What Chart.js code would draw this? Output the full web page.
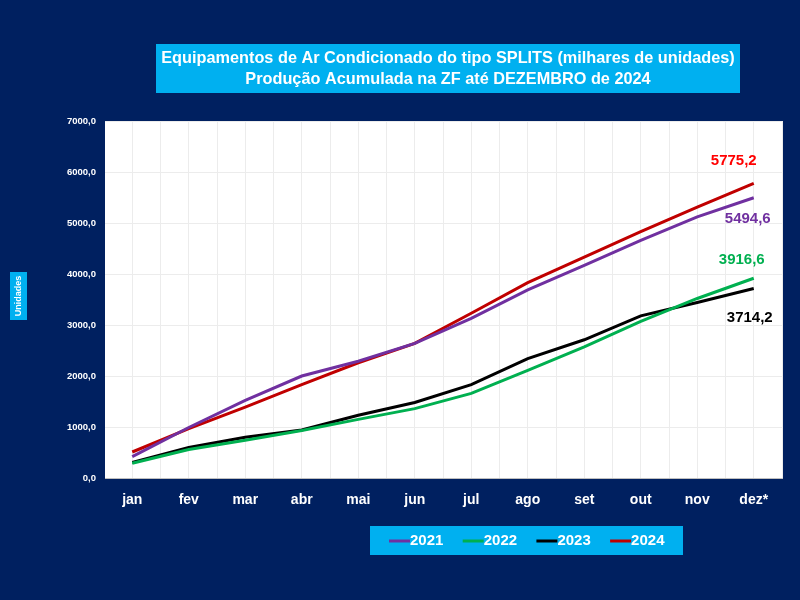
<!DOCTYPE html>
<html>
<head>
<meta charset="utf-8">
<script src="https://cdn.jsdelivr.net/npm/chart.js@4/dist/chart.umd.min.js"></script>
<style>
  html, body { margin: 0; padding: 0; background: #002060; }
  #wrap { width: 800px; height: 600px; }
</style>
</head>
<body>
<div id="wrap"><canvas id="chart" width="800" height="600"></canvas></div>
<script>
// dados (milhares de unidades, acumulado)
const months = ['jan', 'fev', 'mar', 'abr', 'mai', 'jun', 'jul', 'ago', 'set', 'out', 'nov', 'dez*']
const years = ['2021', '2022', '2023', '2024']
const y2021 = [420, 990, 1520, 2000, 2290, 2640, 3130, 3690, 4170, 4660, 5120, 5494.6]
const y2022 = [290, 560, 740, 930, 1150, 1360, 1660, 2110, 2570, 3070, 3520, 3916.6]
const y2023 = [305, 600, 800, 940, 1230, 1480, 1830, 2340, 2710, 3180, 3440, 3714.2]
const y2024 = [510, 970, 1390, 1830, 2260, 2640, 3230, 3830, 4330, 4830, 5310, 5775.2]
const yTicks = [0, 1000, 2000, 3000, 4000, 5000, 6000, 7000]

const NAVY = '#002060'
const CYAN = '#00B0F0'
const FONT = "'Liberation Sans', Arial, sans-serif"

const fmt = v => v.toFixed(1).replace('.', ',')

// estilo de cada série: cor da linha, cor do rótulo final, deslocamento do rótulo
const seriesStyle = [
  { line: '#7030A0', label: '#7030A0', dx: -6, dy: 21 },
  { line: '#00B050', label: '#00B050', dx: -12, dy: -18 },
  { line: '#000000', label: '#000000', dx: -4, dy: 29 },
  { line: '#C00000', label: '#FF0000', dx: -20, dy: -23 }
]
const seriesData = [y2021, y2022, y2023, y2024]

const datasets = years.map((yr, i) => ({
  label: yr,
  data: seriesData[i],
  borderColor: seriesStyle[i].line,
  backgroundColor: seriesStyle[i].line,
  borderWidth: 3,
  pointRadius: 0,
  tension: 0,
  xAxisID: 'x',
  yAxisID: 'y'
}))

// fundo, caixas do título / legenda / eixo e rótulos finais
const decor = {
  id: 'decor',
  beforeDraw(chart) {
    const { ctx, chartArea } = chart
    ctx.save()
    ctx.fillStyle = NAVY
    ctx.fillRect(0, 0, chart.width, chart.height)
    ctx.fillStyle = '#ffffff'
    ctx.fillRect(chartArea.left, chartArea.top, chartArea.right - chartArea.left, chartArea.bottom - chartArea.top)
    ctx.restore()
  },
  afterDraw(chart) {
    const { ctx } = chart
    ctx.save()

    // título
    ctx.fillStyle = CYAN
    ctx.fillRect(156, 44, 584, 49)
    ctx.fillStyle = '#ffffff'
    ctx.font = 'bold 16.3px ' + FONT
    ctx.textAlign = 'center'
    ctx.textBaseline = 'middle'
    ctx.fillText('Equipamentos de Ar Condicionado do tipo SPLITS (milhares de unidades)', 448, 59)
    ctx.fillText('Produção Acumulada na ZF até DEZEMBRO de 2024', 448, 80)

    // título do eixo y
    ctx.fillStyle = CYAN
    ctx.fillRect(10, 272, 17, 48)
    ctx.save()
    ctx.translate(18.5, 296)
    ctx.rotate(-Math.PI / 2)
    ctx.fillStyle = '#ffffff'
    ctx.font = 'bold 9px ' + FONT
    ctx.fillText('Unidades', 0, 0)
    ctx.restore()

    // legenda
    ctx.fillStyle = CYAN
    ctx.fillRect(370, 526, 313, 29)
    ctx.font = 'bold 15px ' + FONT
    ctx.textAlign = 'left'
    chart.data.datasets.forEach((ds, i) => {
      const x0 = 389 + i * 73.7
      ctx.strokeStyle = ds.borderColor
      ctx.lineWidth = 3
      ctx.beginPath()
      ctx.moveTo(x0, 541)
      ctx.lineTo(x0 + 21, 541)
      ctx.stroke()
      ctx.fillStyle = '#ffffff'
      ctx.fillText(ds.label, x0 + 21, 541)
    })

    // rótulos do último ponto
    ctx.font = 'bold 15px ' + FONT
    ctx.textAlign = 'center'
    chart.data.datasets.forEach((ds, i) => {
      const meta = chart.getDatasetMeta(i)
      const pt = meta.data[meta.data.length - 1]
      const v = ds.data[ds.data.length - 1]
      ctx.fillStyle = seriesStyle[i].label
      ctx.fillText(fmt(v), pt.x + seriesStyle[i].dx, pt.y + seriesStyle[i].dy)
    })
    ctx.restore()
  }
}

new Chart(document.getElementById('chart'), {
  type: 'line',
  data: { labels: months, datasets },
  options: {
    responsive: false,
    animation: false,
    layout: { padding: { top: 121, right: 18, bottom: 77, left: 0 } },
    plugins: {
      legend: { display: false },
      title: { display: false },
      tooltip: { enabled: false }
    },
    scales: {
      x: {
        type: 'category',
        offset: true,
        grid: { color: '#ececec', offset: true, drawTicks: false },
        border: { color: '#bfbfbf', width: 1 },
        ticks: {
          color: '#ffffff',
          font: { family: FONT, size: 14, weight: 'bold' },
          padding: 14,
          autoSkip: false,
          maxRotation: 0
        },
        afterFit(s) { s.height = 45 }
      },
      x2: {
        type: 'category',
        labels: months,
        offset: true,
        position: 'bottom',
        display: true,
        grid: { color: '#ececec', offset: false, drawTicks: false },
        border: { display: false },
        ticks: { display: false },
        afterFit(s) { s.height = 0 }
      },
      y: {
        min: 0,
        max: 7000,
        afterBuildTicks(s) { s.ticks = yTicks.map(v => ({ value: v })) },
        grid: { color: '#ececec', drawTicks: false },
        border: { color: NAVY },
        ticks: {
          color: '#ffffff',
          font: { family: FONT, size: 9.5, weight: 'bold' },
          padding: 8,
          callback: v => fmt(v)
        },
        afterFit(s) { s.width = 104 }
      }
    }
  },
  plugins: [decor]
})
</script>
</body>
</html>
